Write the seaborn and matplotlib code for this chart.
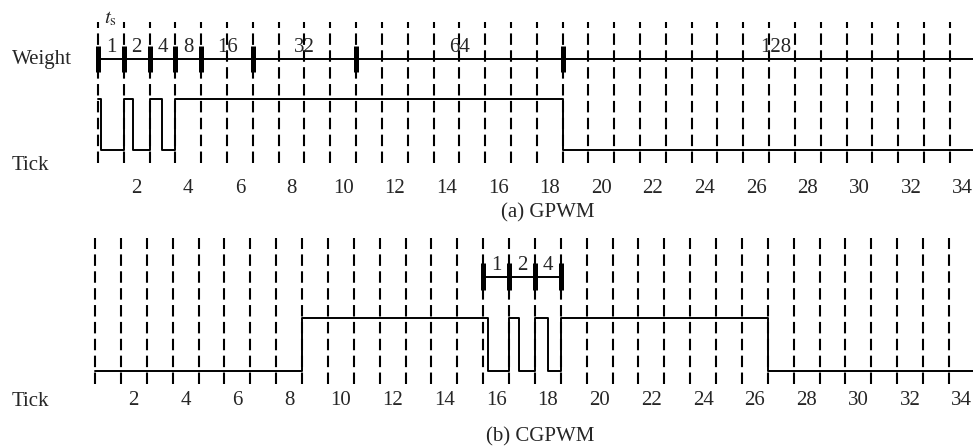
import matplotlib
matplotlib.use("Agg")
import matplotlib.pyplot as plt
import numpy as np
import pandas as pd
import seaborn as sns

# ---------------- data ----------------
# slot boundaries (dashed lines), one per time slot t_s
slot_bounds = [k + 0.5 for k in range(0, 34)]
tick_positions = [2, 4, 6, 8, 10, 12, 14, 16, 18, 20, 22, 24, 26, 28, 30, 32, 34]
tick_labels = [str(v) for v in tick_positions]

# (a) GPWM: weight segment boundaries and their weights
gpwm_weight_bounds = [0.5, 1.5, 2.5, 3.5, 4.5, 6.5, 10.5, 18.5, 35.0]
gpwm_weights = ["1", "2", "4", "8", "16", "32", "64", "128"]
# (a) GPWM tick waveform: edge times and level after each edge
gpwm_t = [0.5, 0.6, 1.5, 1.86, 2.5, 2.98, 3.5, 18.5, 34.6]
gpwm_level = [1, 0, 1, 0, 1, 0, 1, 0, 0]

# (b) CGPWM
cgpwm_weight_bounds = [15.5, 16.5, 17.5, 18.5]
cgpwm_weights = ["1", "2", "4"]
cgpwm_t = [0.5, 8.5, 15.69, 16.5, 16.89, 17.5, 17.99, 18.5, 26.5, 34.6]
cgpwm_level = [0, 1, 0, 1, 0, 1, 0, 1, 0, 0]

# ---------------- style ----------------
sns.set_style("white")
plt.rcParams["font.family"] = ["Liberation Serif", "DejaVu Serif"]
plt.rcParams["mathtext.fontset"] = "stix"
FS = 15
W, H = 973, 446
WEIGHT_Y = 1.78
MARK_LW = 3.6

fig = plt.figure(figsize=(W / 100, H / 100), dpi=100)


def px_axes(x0, y0, x1, y1):
    return fig.add_axes([x0 / W, 1 - y1 / H, (x1 - x0) / W, (y1 - y0) / H])


def setup(ax, xlim, ylim):
    ax.set_xlim(*xlim)
    ax.set_ylim(*ylim)
    for s in ax.spines.values():
        s.set_visible(False)
    ax.set_yticks([])
    ax.set_xticks(tick_positions)
    ax.set_xticklabels(tick_labels, fontsize=FS)
    ax.tick_params(axis="x", length=0, pad=2.5)
    ax.set_xlabel("")
    ax.set_ylabel("")
    ax.patch.set_alpha(0)


def draw_panel(ax, wbounds, wlabels, t, lvl, weight_end, marks):
    # dashed slot boundaries
    ax.vlines(slot_bounds, -0.25, 2.51, colors="black", lw=1.5,
              linestyles=[(0, (5.5, 2.6))], zorder=2)
    # weight line
    wdf = pd.DataFrame({"x": [wbounds[0], weight_end], "y": [WEIGHT_Y, WEIGHT_Y]})
    sns.lineplot(data=wdf, x="x", y="y", color="black", lw=1.4,
                 estimator=None, ax=ax, zorder=3)
    # weight markers
    ax.vlines(marks, WEIGHT_Y - 0.26, WEIGHT_Y + 0.26,
              colors="black", lw=MARK_LW, zorder=4)
    # weight labels
    for i, lab in enumerate(wlabels):
        cx = (wbounds[i] + wbounds[i + 1]) / 2
        ax.text(cx, WEIGHT_Y + 0.22, lab, ha="center", va="center", fontsize=FS)
    # tick waveform
    tdf = pd.DataFrame({"t": t, "level": lvl})
    sns.lineplot(data=tdf, x="t", y="level", drawstyle="steps-post",
                 color="black", lw=1.4, estimator=None, sort=False, ax=ax, zorder=3)


# ---- (a) GPWM ----
ax1 = px_axes(0, 0, 973, 176)
draw_panel(ax1, gpwm_weight_bounds, gpwm_weights, gpwm_t, gpwm_level, 35.0,
           gpwm_weight_bounds[:-1])
setup(ax1, (-3.297, 34.40), (-(176 - 150) / 51, 150 / 51))
ax1.text(1.0, 2.57, r"$t_{\mathrm{s}}$", ha="center", va="center", fontsize=FS)
ax1.text(-2.83, WEIGHT_Y, "Weight", ha="left", va="center", fontsize=FS)
ax1.text(-2.83, -(166 - 150) / 51, "Tick", ha="left", va="center", fontsize=FS)

# ---- (b) CGPWM ----
ax2 = px_axes(0, 230, 973, 388)
draw_panel(ax2, cgpwm_weight_bounds, cgpwm_weights, cgpwm_t, cgpwm_level, 18.5,
           cgpwm_weight_bounds)
setup(ax2, (-3.171, 34.43), (-(388 - 371) / 53, (371 - 230) / 53))
ax2.text(-2.71, -(402 - 371) / 53, "Tick", ha="left", va="center",
         fontsize=FS, clip_on=False)

fig.text(548 / W, 1 - 213 / H, "(a) GPWM", ha="center", va="center", fontsize=FS)
fig.text(540 / W, 1 - 437 / H, "(b) CGPWM", ha="center", va="center", fontsize=FS)

fig.savefig("out.png", dpi=100)
